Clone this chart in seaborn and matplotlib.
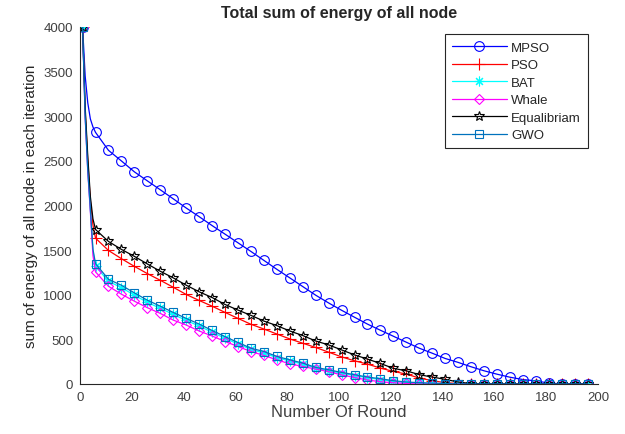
import matplotlib
matplotlib.use("Agg")
import matplotlib.pyplot as plt
import seaborn as sns
import pandas as pd

sns.set_style("white")
plt.rcParams['font.family'] = ['Liberation Sans', 'DejaVu Sans']

rounds = [1, 2, 3, 4, 5] + list(range(6, 197, 5))

mpso = [4000, 3450, 3150, 2970, 2880,
        2819, 2618, 2499, 2377, 2276, 2176, 2075, 1972, 1875, 1775,
        1679, 1582, 1485, 1385, 1285, 1189, 1092, 995, 908, 826,
        748, 671, 602, 535, 468, 401, 345, 286, 242, 193,
        148, 110, 76, 50, 35, 10, 2, 0, 0]
pso = [4000, 3050, 2500, 2050, 1780,
       1634, 1496, 1404, 1318, 1237, 1162, 1084, 1003, 936, 872,
       802, 735, 669, 616, 560, 505, 457, 409, 357, 304,
       260, 223, 178, 141, 111, 67, 37, 15, 5, 0,
       0, 0, 0, 0, 0, 0, 0, 0, 0]
bat = [4000, 3000, 2400, 1950, 1490,
       1320, 1150, 1080, 995, 915, 848, 780, 712, 650, 580,
       512, 448, 388, 348, 295, 258, 222, 178, 150, 120,
       95, 70, 50, 30, 18, 10, 5, 2, 0, 0,
       0, 0, 0, 0, 0, 0, 0, 0, 0]
whale = [4000, 2980, 2380, 1930, 1440,
         1256, 1095, 1006, 928, 855, 791, 716, 661, 594, 538,
         476, 420, 364, 320, 271, 226, 197, 167, 138, 102,
         72, 45, 25, 14, 6, 0, 0, 0, 0, 0,
         0, 0, 0, 0, 0, 0, 0, 0, 0]
equal = [4000, 3100, 2550, 2100, 1850,
         1731, 1597, 1508, 1430, 1345, 1263, 1189, 1107, 1033, 969,
         891, 828, 769, 705, 654, 594, 543, 482, 438, 382,
         326, 279, 230, 175, 148, 104, 78, 52, 22, 5,
         0, 0, 0, 0, 0, 0, 0, 0, 0]
gwo = [4000, 3000, 2400, 1960, 1510,
       1348, 1173, 1106, 1021, 939, 872, 802, 735, 672, 600,
       531, 465, 401, 364, 309, 271, 234, 186, 159, 130,
       104, 78, 59, 37, 22, 15, 10, 5, 0, 0,
       0, 0, 0, 0, 0, 0, 0, 0, 0]

names = ["MPSO", "PSO", "BAT", "Whale", "Equalibriam", "GWO"]
series = [mpso, pso, bat, whale, equal, gwo]
colors = ["#0000FF", "#FF0000", "#00FFFF", "#FF00FF", "#000000", "#0072BD"]
markers = ["o", "+", (8, 2, 0), "D", "*", "s"]
msizes = [7, 8, 7, 5.5, 7, 5.5]

fig = plt.figure(figsize=(6.25, 4.35), dpi=100)
ax = fig.add_axes([80/625, 1-385/435, 518/625, 357/435])

markidx = [0] + list(range(5, len(rounds)))
for name, vals, c, m, ms in zip(names, series, colors, markers, msizes):
    df = pd.DataFrame({"Round": rounds, "Energy": vals})
    sns.lineplot(data=df, x="Round", y="Energy", ax=ax, color=c, marker=m,
                 markersize=ms, markevery=markidx, markerfacecolor="none",
                 markeredgecolor=c, markeredgewidth=0.8, linewidth=0.9,
                 label=name)

ax.set_xlim(0, 200)
ax.set_ylim(0, 4000)
ax.set_xticks(range(0, 201, 20))
ax.set_yticks(range(0, 4001, 500))
for s in ["top", "right"]:
    ax.spines[s].set_visible(False)
for s in ["left", "bottom"]:
    ax.spines[s].set_color("#262626")
    ax.spines[s].set_linewidth(0.8)
ax.tick_params(direction="in", length=4, width=0.8, colors="#262626",
               labelsize=9.5, labelcolor="#404040", pad=5)
ax.set_xlabel("Number Of Round", fontsize=12, color="#404040", labelpad=1)
ax.set_ylabel("sum of energy of all node in each iteration", fontsize=11,
              color="#262626", labelpad=4)
ax.set_title("Total sum of energy of all node", fontsize=11.5,
             fontweight="bold", pad=7)

leg = ax.legend(loc="upper right", bbox_to_anchor=(0.981, 0.98),
                borderaxespad=0, fontsize=9.5, handlelength=4.2,
                labelspacing=0.4, fancybox=False, framealpha=1,
                borderpad=0.55, handletextpad=0.3)
leg.get_frame().set_edgecolor("#262626")
leg.get_frame().set_linewidth(0.8)

fig.savefig("out.png", dpi=100)
